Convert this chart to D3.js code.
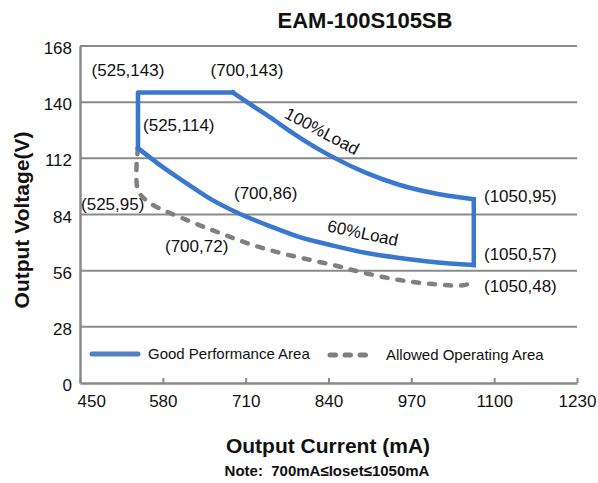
<!DOCTYPE html>
<html>
<head>
<meta charset="utf-8">
<script src="https://cdn.jsdelivr.net/npm/d3@7"></script>
<style>
  body { margin: 0; background: #fff; }
  text { font-family: "Liberation Sans", Arial, sans-serif; fill: #111; }
</style>
</head>
<body>
<div id="chart"></div>
<script>
// axis ticks
const xTicks = [450, 580, 710, 840, 970, 1100, 1230];
const yTicks = [0, 28, 56, 84, 112, 140, 168];

// good performance area (mA, V)
const boxCurrent = [541, 541, 690];
const boxVoltage = [117.1, 144.8, 144.8];
const fullCurrent = [690, 717, 748, 784, 827, 847, 900, 952, 1004, 1068];
const fullVoltage = [144.8, 139.0, 132.5, 124.6, 116.1, 112.6, 104.6, 98.7, 94.7, 91.6];
const edgeCurrent = [1068, 1068];
const edgeVoltage = [91.6, 58.8];
const sixtyCurrent = [541, 580, 618, 654, 696, 748, 795, 847, 900, 952, 1004, 1068];
const sixtyVoltage = [117.1, 107.6, 99.4, 91.9, 85.0, 78.2, 72.7, 68.5, 64.8, 62.3, 60.3, 58.8];

// allowed operating area (dashed)
const allowedCurrent = [541, 541, 560, 618, 670, 721, 775, 847, 900, 952, 1004, 1057, 1068];
const allowedVoltage = [117.1, 96.2, 89.7, 81.2, 74.7, 68.8, 64.0, 58.8, 54.6, 51.3, 49.3, 49.1, 52.3];

// point labels
const labelText = ["(525,143)", "(700,143)", "(525,114)", "(700,86)", "(525,95)", "(700,72)", "(1050,95)", "(1050,57)", "(1050,48)"];
const labelCurrent = [525.3, 712.1, 548.9, 691.7, 451.6, 583.4, 1084, 1084, 1084];
const labelVoltage = [153.0, 153.0, 125.6, 91.7, 86.2, 65.3, 90.2, 61.3, 45.4];
const labelAnchor = ["middle", "middle", "start", "start", "start", "start", "start", "start", "start"];

const loadText = ["100%Load", "60%Load"];
const loadCurrent = [829.8, 894.1];
const loadVoltage = [125.6, 74.8];
const loadAngle = [28, 12];

const W = 598, H = 483;
const blue = "#3a77cf", gray = "#808080", grid = "#8a8a8a";

const svg = d3.select("#chart").append("svg")
    .attr("width", W).attr("height", H);

const x = d3.scaleLinear().domain([450, 1230]).range([80, 577]);
const y = d3.scaleLinear().domain([0, 168]).range([383, 46]);

// horizontal grid
svg.append("g").selectAll("line")
    .data(yTicks.filter(d => d > 0))
    .join("line")
    .attr("x1", x(450)).attr("x2", x(1230))
    .attr("y1", d => y(d)).attr("y2", d => y(d))
    .attr("stroke", grid).attr("stroke-width", 2);

// bottom axis (ticks pointing up)
const xAxis = svg.append("g")
    .attr("transform", `translate(0,${y(0)})`)
    .call(d3.axisBottom(x).tickValues(xTicks).tickSizeInner(-5).tickSizeOuter(0).tickPadding(0));
xAxis.select(".domain").attr("stroke", grid).attr("stroke-width", 2.5);
xAxis.selectAll(".tick line").attr("stroke", grid).attr("stroke-width", 2);
xAxis.selectAll(".tick text").remove();
xAxis.selectAll(".tick").append("text")
    .attr("y", 24)
    .attr("text-anchor", (d, i) => i === 0 ? "start" : "middle")
    .attr("dx", (d, i) => i === 0 ? -3 : 0)
    .attr("font-size", 17)
    .text(d => d);

// left axis
const yAxis = svg.append("g")
    .attr("transform", `translate(${x(450)},0)`)
    .call(d3.axisLeft(y).tickValues(yTicks).tickSize(0).tickPadding(8));
yAxis.select(".domain").attr("stroke", grid).attr("stroke-width", 2.5);
yAxis.selectAll(".tick text")
    .attr("font-size", 17)
    .attr("font-family", "Liberation Sans, Arial, sans-serif")
    .attr("fill", "#111")
    .attr("dy", "0.45em");

// curves
const line = (xs, ys, curve) => d3.line()
    .x(i => x(xs[i])).y(i => y(ys[i]))
    .curve(curve)(d3.range(xs.length));

const marks = svg.append("g").attr("fill", "none").attr("stroke-linejoin", "round");

marks.append("path")
    .attr("d", line(allowedCurrent, allowedVoltage, d3.curveCatmullRom.alpha(0.5)))
    .attr("stroke", gray).attr("stroke-width", 4.5)
    .attr("stroke-linecap", "round")
    .attr("stroke-dasharray", "6,10");

[[boxCurrent, boxVoltage, d3.curveLinear],
 [fullCurrent, fullVoltage, d3.curveMonotoneX],
 [edgeCurrent, edgeVoltage, d3.curveLinear],
 [sixtyCurrent, sixtyVoltage, d3.curveMonotoneX]].forEach(([xs, ys, c]) => {
    marks.append("path")
        .attr("d", line(xs, ys, c))
        .attr("stroke", blue).attr("stroke-width", 4.5)
        .attr("stroke-linecap", "square");
});

// point labels
svg.append("g").selectAll("text")
    .data(labelText)
    .join("text")
    .attr("x", (d, i) => x(labelCurrent[i]))
    .attr("y", (d, i) => y(labelVoltage[i]))
    .attr("text-anchor", (d, i) => labelAnchor[i])
    .attr("font-size", 17)
    .text(d => d);

svg.append("g").selectAll("text")
    .data(loadText)
    .join("text")
    .attr("transform", (d, i) => `translate(${x(loadCurrent[i])},${y(loadVoltage[i])}) rotate(${loadAngle[i]})`)
    .attr("text-anchor", "middle")
    .attr("dy", "0.35em")
    .attr("font-size", 17)
    .text(d => d);

// legend
const legend = svg.append("g");
legend.append("line")
    .attr("x1", 92).attr("x2", 138).attr("y1", 354).attr("y2", 354)
    .attr("stroke", "#4f81c4").attr("stroke-width", 5).attr("stroke-linecap", "round");
legend.append("text").attr("x", 148).attr("y", 359).attr("font-size", 15)
    .text("Good Performance Area");
legend.append("line")
    .attr("x1", 330).attr("x2", 370).attr("y1", 355).attr("y2", 355)
    .attr("stroke", gray).attr("stroke-width", 5).attr("stroke-linecap", "round")
    .attr("stroke-dasharray", "5.5,9.5");
legend.append("text").attr("x", 386).attr("y", 360).attr("font-size", 15)
    .text("Allowed Operating Area");

// titles
svg.append("text")
    .attr("x", 365).attr("y", 28)
    .attr("text-anchor", "middle")
    .attr("font-size", 22).attr("font-weight", "bold")
    .text("EAM-100S105SB");

svg.append("text")
    .attr("transform", "translate(29,220) rotate(-90)")
    .attr("text-anchor", "middle")
    .attr("font-size", 21).attr("font-weight", "bold")
    .text("Output Voltage(V)");

svg.append("text")
    .attr("x", 328).attr("y", 453)
    .attr("text-anchor", "middle")
    .attr("font-size", 21).attr("font-weight", "bold")
    .text("Output Current (mA)");

svg.append("text")
    .attr("x", 327).attr("y", 476)
    .attr("text-anchor", "middle")
    .attr("font-size", 15).attr("font-weight", "bold")
    .attr("xml:space", "preserve")
    .text("Note:  700mA\u2264Ioset\u22641050mA");
</script>
</body>
</html>
